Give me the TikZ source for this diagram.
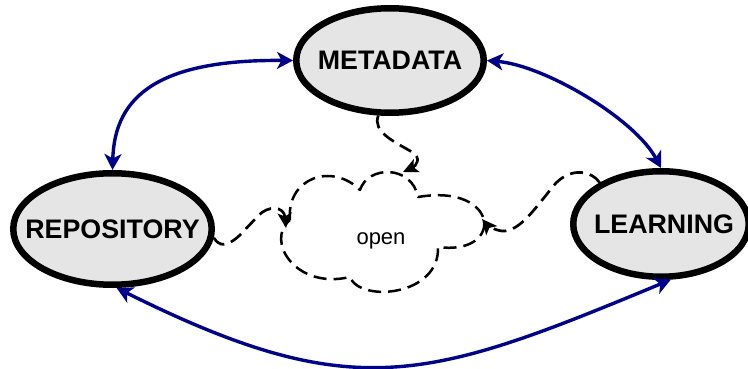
\documentclass[tikz,border=0pt]{standalone}
\usepackage{fontspec}
\setmainfont{Liberation Sans}
\usetikzlibrary{arrows.meta,shapes.geometric}
\definecolor{linkblue}{RGB}{0,0,136}
\definecolor{bubblefill}{gray}{0.9}
\begin{document}
\begin{tikzpicture}[x=1pt,y=1pt,
  concept/.style={ellipse, draw=black, line width=6.5pt, fill=bubblefill, inner sep=0pt},
  concepttext/.style={inner sep=0pt, font=\fontsize{26.8}{31}\selectfont\bfseries},
  link/.style={draw=linkblue, line width=3.4pt,
    {Stealth[length=16pt,width=17pt,inset=4.5pt]}-{Stealth[length=16pt,width=17pt,inset=4.5pt]}},
  flow/.style={draw=black, line width=2.7pt, dash pattern=on 13pt off 7pt,
    -{Stealth[length=15pt,width=14pt,inset=3.5pt]}},
  cloudline/.style={draw=black, line width=2.5pt, dash pattern=on 13pt off 7pt, line join=round}]
\useasboundingbox (0,0) rectangle (748,368);

% the three concepts
\node[concept, minimum width=187.5pt, minimum height=104.5pt] (meta) at (390,307.5) {};
\node[concepttext] (metatext) at (meta.center) {METADATA};
\node[concept, minimum width=198.5pt, minimum height=111.5pt] (repo) at (112.5,139) {};
\node[concepttext] (repotext) at (repo.center) {REPOSITORY};
\node[concept, minimum width=175.5pt, minimum height=105.5pt] (learn) at (661,144) {};
\node[concepttext] (learntext) at ([xshift=3pt]learn.center) {LEARNING};

% the open cloud in the middle
\draw[cloudline] (290,148) .. controls (286,190) and (332,206) .. (360,178)
  .. controls (368,203) and (412,203) .. (418,171)
  .. controls (500,185) and (505,112) .. (438,121)
  .. controls (440,72) and (360,65) .. (350,91)
  .. controls (295,78) and (265,128) .. cycle;
\node[anchor=base, inner sep=0pt, font=\fontsize{22}{26}\selectfont] (open) at (381,124) {open};
\coordinate (cloudtop) at (403,196);
\coordinate (cloudleft) at (286,140);
\coordinate (cloudright) at (482,149);

% two-way links between the concepts
\draw[link] (repo.north) .. controls +(2,75) and +(-133,1) .. (meta.west);
\draw[link] (meta.east) .. controls +(58,-5) and +(-26,49) .. (learn.north);
\draw[link] (repo.-86) .. controls (354,-38) and (427,-13) .. (learn.-80);

% dashed flows into the cloud
\draw[flow] (meta.258) .. controls (372,236) and (395,226) .. (412,216)
  .. controls (422,210) and (416,202) .. (cloudtop);
\draw[flow] (repo.-5) .. controls (219,122) and (226,120) .. (240,133) -- (258,152)
  .. controls (268,163) and (284,162) .. (cloudleft);
\draw[flow] (learn.146) .. controls (592,197) and (572,201) .. (556,185)
  .. controls (535,160) and (520,136) .. (502,137)
  .. controls (494,138) and (487,143) .. (cloudright);
\end{tikzpicture}
\end{document}
